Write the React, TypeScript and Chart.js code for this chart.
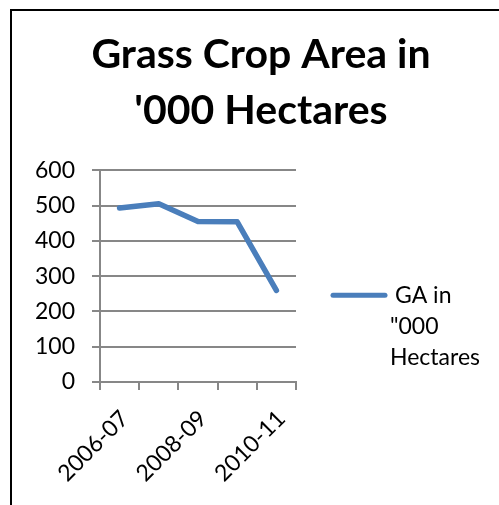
import React, { useEffect, useRef } from "react";
import { Chart, registerables } from "chart.js";

Chart.register(...registerables);

const categories = ["2006-07", "2007-08", "2008-09", "2009-10", "2010-11"];
const gaValues = [493, 505, 455, 454, 260];
const seriesLabel = 'GA in "000 Hectares';
const legendLines = ["GA in", '"000', "Hectares"];
const titleLines = ["Grass Crop Area in", "'000 Hectares"];
const yMin = 0;
const yMax = 600;
const yStep = 100;

const FONT = "Lato, 'Open Sans', sans-serif";
const LINE_COLOR = "#4a7ebb";
const GRID_COLOR = "#878787";

const legendPlugin = {
  id: "sideLegend",
  afterDraw(chart: any) {
    const { ctx, chartArea } = chart;
    const x0 = chartArea.right + 37;
    const x1 = chartArea.right + 89;
    const y0 = chartArea.top + 125;
    ctx.save();
    ctx.strokeStyle = LINE_COLOR;
    ctx.lineWidth = 5;
    ctx.lineCap = "round";
    ctx.beginPath();
    ctx.moveTo(x0, y0);
    ctx.lineTo(x1, y0);
    ctx.stroke();
    ctx.fillStyle = "#000";
    ctx.font = `23px ${FONT}`;
    ctx.textBaseline = "middle";
    ctx.textAlign = "left";
    const lh = 31;
    legendLines.forEach((t, i) => {
      const tx = i === 0 ? x1 + 10 : x1 + 5;
      ctx.fillText(t, tx, y0 + i * lh);
    });
    ctx.restore();
  },
};

export default function App() {
  const ref = useRef<HTMLCanvasElement | null>(null);

  useEffect(() => {
    if (!ref.current) return;
    const chart = new Chart(ref.current, {
      type: "line",
      data: {
        labels: categories,
        datasets: [
          {
            label: seriesLabel,
            data: gaValues,
            borderColor: LINE_COLOR,
            backgroundColor: LINE_COLOR,
            borderWidth: 5.5,
            pointRadius: 0,
            tension: 0,
            borderJoinStyle: "round",
            borderCapStyle: "round",
            yAxisID: "y",
          },
        ],
      },
      options: {
        responsive: false,
        animation: false,
        layout: { padding: { left: 23, right: 0, top: 0, bottom: 0 } },
        plugins: {
          legend: { display: false },
          tooltip: { enabled: false },
          title: {
            display: true,
            text: titleLines,
            color: "#000",
            font: { family: FONT, size: 41, weight: "bold", lineHeight: 1.37 },
            padding: { top: 27, bottom: 31 },
          },
        },
        scales: {
          x: {
            type: "category",
            offset: true,
            grid: {
              offset: true,
              drawOnChartArea: false,
              drawTicks: true,
              tickLength: 8,
              color: GRID_COLOR,
              lineWidth: 2,
            },
            border: { display: true, color: GRID_COLOR, width: 2 },
            ticks: {
              autoSkip: false,
              minRotation: 45,
              maxRotation: 45,
              color: "#000",
              padding: 15,
              labelOffset: 5,
              font: { family: FONT, size: 23 },
              callback: (_v: any, i: number) => (i % 2 === 0 ? categories[i] : ""),
            },
            afterFit: (s: any) => {
              s.height = 123;
            },
          },
          y: {
            position: "left",
            min: yMin,
            max: yMax,
            grid: {
              color: GRID_COLOR,
              lineWidth: 2,
              drawTicks: true,
              tickLength: 8,
            },
            border: { display: true, color: GRID_COLOR, width: 2 },
            ticks: {
              stepSize: yStep,
              color: "#000",
              padding: 17,
              font: { family: FONT, size: 23 },
            },
            afterFit: (s: any) => {
              s.width = 77;
            },
          },
          yR: {
            position: "right",
            display: true,
            grid: { display: false, drawTicks: false },
            border: { display: false },
            ticks: { display: false },
            afterFit: (s: any) => {
              s.width = 203;
            },
          },
        },
      },
      plugins: [legendPlugin],
    } as any);
    return () => chart.destroy();
  }, []);

  return (
    <div style={{ position: "absolute", left: 0, top: 0, width: 499, height: 505, background: "#fff" }}>
      <canvas ref={ref} width={499} height={505} style={{ display: "block" }} />
      <div
        style={{
          position: "absolute",
          left: 10,
          top: 9,
          width: 489,
          height: 496,
          borderTop: "2px solid #000",
          borderLeft: "2px solid #000",
          boxSizing: "border-box",
          pointerEvents: "none",
        }}
      />
    </div>
  );
}
